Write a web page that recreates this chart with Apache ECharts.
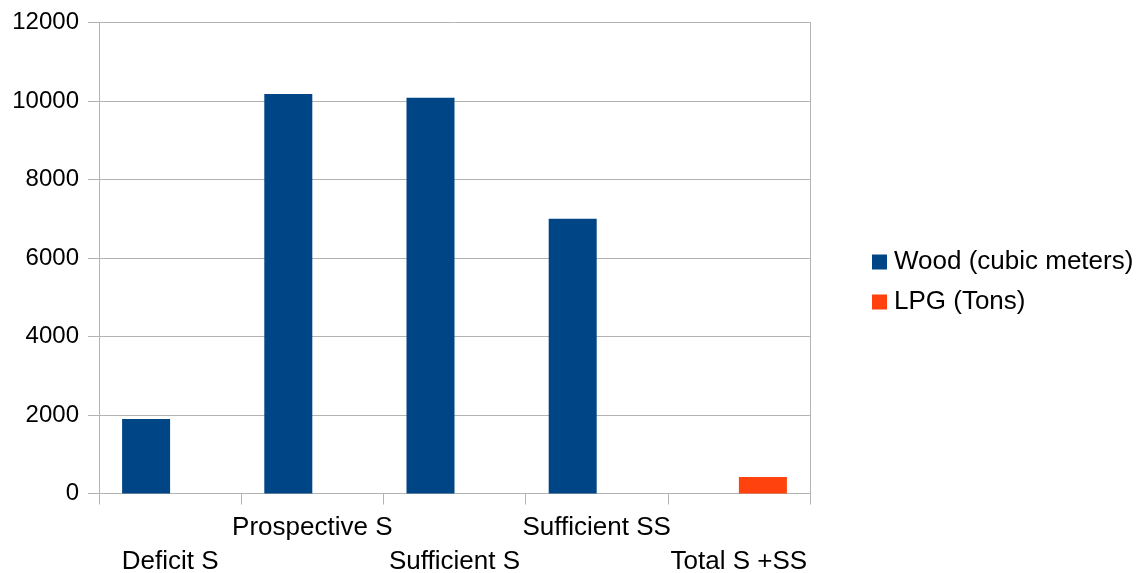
<!DOCTYPE html>
<html>
<head>
<meta charset="utf-8">
<script src="https://cdn.jsdelivr.net/npm/echarts@6/dist/echarts.min.js"></script>
<style>
  html, body { margin: 0; padding: 0; background: #ffffff; }
  #chart { width: 1141px; height: 573px; }
</style>
</head>
<body>
<div id="chart"></div>
<script>
// Fuel consumption by zone
const categories = ['Deficit S', 'Prospective S', 'Sufficient S', 'Sufficient SS', 'Total S +SS'];
const woodValues = [1900, 10180, 10080, 7000, null];
const lpgValues = [null, null, null, null, 420];
const seriesNames = ['Wood (cubic meters)', 'LPG (Tons)'];

const FONT = '"Liberation Sans", Arial, sans-serif';
const GRID_GRAY = '#b3b3b3';

const chart = echarts.init(document.getElementById('chart'), null, { renderer: 'canvas' });

chart.setOption({
  animation: false,
  backgroundColor: '#ffffff',
  grid: { left: 99, right: 331, top: 22.5, bottom: 79.5, containLabel: false, outerBoundsMode: 'none' },
  legend: {
    orient: 'vertical',
    left: 867,
    top: 244,
    icon: 'rect',
    itemWidth: 15,
    itemHeight: 15,
    itemGap: 14,
    textStyle: { fontFamily: FONT, fontSize: 26, color: '#000000', lineHeight: 26, padding: [0, 0, 0, 2] },
    data: seriesNames
  },
  xAxis: {
    type: 'category',
    data: categories,
    boundaryGap: true,
    axisLine: { show: true, lineStyle: { color: GRID_GRAY, width: 1 } },
    axisTick: { show: true, length: 11, lineStyle: { color: GRID_GRAY } },
    axisLabel: {
      interval: 0,
      margin: 17,
      fontFamily: FONT,
      fontSize: 26,
      color: '#000000',
      lineHeight: 34,
      // alternate labels are pushed onto a second row
      formatter: function (value, index) { return index % 2 === 0 ? '\n' + value : value; }
    },
    splitLine: { show: false }
  },
  yAxis: [{
    type: 'value',
    min: 0,
    max: 12000,
    interval: 2000,
    axisLine: { show: true, lineStyle: { color: GRID_GRAY, width: 1 } },
    axisTick: { show: true, inside: false, length: 11, lineStyle: { color: GRID_GRAY } },
    axisLabel: {
      margin: 20, fontFamily: FONT, fontSize: 24, color: '#000000',
      formatter: function (v) { return String(v); }
    },
    splitLine: { show: true, lineStyle: { color: GRID_GRAY, width: 1 } }
  }, {
    // right border of the plot area
    type: 'value',
    position: 'right',
    min: 0,
    max: 12000,
    interval: 2000,
    axisLine: { show: true, lineStyle: { color: GRID_GRAY, width: 1 } },
    axisTick: { show: false },
    axisLabel: { show: false },
    splitLine: { show: false }
  }],
  series: [{
    name: seriesNames[0],
    type: 'bar',
    data: woodValues,
    barWidth: 48,
    barGap: '0%',
    itemStyle: { color: '#004586' }
  }, {
    name: seriesNames[1],
    type: 'bar',
    data: lpgValues,
    barWidth: 48,
    barGap: '0%',
    itemStyle: { color: '#ff420e' }
  }]
});
</script>
</body>
</html>
